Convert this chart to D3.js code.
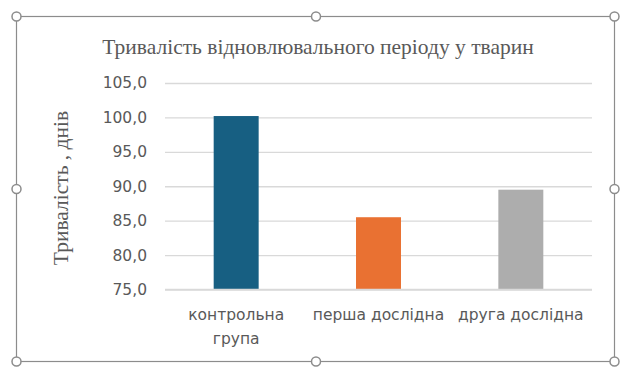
<html>
<head>
  <meta charset="utf-8" />
  <script src="https://cdnjs.cloudflare.com/ajax/libs/d3/7.8.5/d3.min.js"></script>
  <style>
    body { margin: 0; background: #fff; }
    .tick text { fill: #595959; font-family: "DejaVu Sans", sans-serif; font-size: 15.5px; }
  </style>
</head>
<body>
  <svg></svg>
  <script>
    var groups = [["контрольна", "група"], ["перша дослідна"], ["друга дослідна"]]
    var values = [100.2, 85.5, 89.5]
    var colors = ["#175f82", "#e97132", "#adadad"]
    var yTicks = [75, 80, 85, 90, 95, 100, 105]

    var svg = d3.select("svg").attr("width", 627).attr("height", 377)

    // chart frame with selection handles
    svg.append("rect")
      .attr("x", 16.5).attr("y", 16.5).attr("width", 598).attr("height", 345)
      .attr("fill", "#fff").attr("stroke", "#8c8c8c").attr("stroke-width", 1.2)

    var xScale = d3.scaleBand()
      .domain(d3.range(groups.length))
      .range([165, 592])
      .paddingInner(0.684)
      .paddingOuter(0.342)

    var yScale = d3.scaleLinear().domain([75, 105]).range([289.5, 83])

    var yAxis = d3.axisLeft(yScale)
      .tickValues(yTicks)
      .tickSize(-(592 - 165))
      .tickPadding(18)
      .tickFormat(d => d3.format(".1f")(d).replace(".", ","))

    var gy = svg.append("g").attr("transform", "translate(165,0)").call(yAxis)
    gy.select(".domain").remove()
    gy.selectAll(".tick line").attr("stroke", "#d9d9d9").attr("stroke-width", 1.3)

    svg.selectAll("rect.bar")
      .data(values)
      .enter()
      .append("rect")
        .attr("class", "bar")
        .attr("x", (d, i) => xScale(i))
        .attr("width", xScale.bandwidth())
        .attr("y", d => yScale(d))
        .attr("height", d => yScale(75) - yScale(d))
        .attr("fill", (d, i) => colors[i])

    // bottom line drawn over bars
    svg.append("line")
      .attr("x1", 165).attr("x2", 592)
      .attr("y1", yScale(75)).attr("y2", yScale(75))
      .attr("stroke", "#d9d9d9").attr("stroke-width", 1.3)

    var xl = svg.selectAll("text.xlab")
      .data(groups)
      .enter()
      .append("text")
        .attr("class", "xlab")
        .attr("text-anchor", "middle")
        .attr("fill", "#595959")
        .style("font-family", "'DejaVu Sans', sans-serif")
        .style("font-size", "15.5px")
        .attr("transform", (d, i) => `translate(${xScale(i) + xScale.bandwidth() / 2},320)`)

    xl.selectAll("tspan")
      .data(d => d)
      .enter()
      .append("tspan")
        .attr("x", 0)
        .attr("dy", (d, i) => i ? 24 : 0)
        .text(d => d)

    svg.append("text")
      .attr("x", 318).attr("y", 54)
      .attr("text-anchor", "middle")
      .attr("fill", "#595959")
      .style("font-family", "'Liberation Serif', serif")
      .style("font-size", "21.5px")
      .text("Тривалість відновлювального періоду у тварин")

    svg.append("text")
      .attr("transform", "translate(68,188) rotate(-90)")
      .attr("text-anchor", "middle")
      .attr("fill", "#595959")
      .style("font-family", "'Liberation Serif', serif")
      .style("font-size", "21.5px")
      .text("Тривалість , днів")

    var handles = [[16.5, 16.5], [316, 16.5], [614.5, 16.5], [16.5, 189], [614.5, 189],
                   [16.5, 361.5], [316, 361.5], [614.5, 361.5]]
    svg.selectAll("circle.handle")
      .data(handles)
      .enter()
      .append("circle")
        .attr("cx", d => d[0]).attr("cy", d => d[1]).attr("r", 4.5)
        .attr("fill", "#fff").attr("stroke", "#8c8c8c").attr("stroke-width", 1.5)
  </script>
</body>
</html>
